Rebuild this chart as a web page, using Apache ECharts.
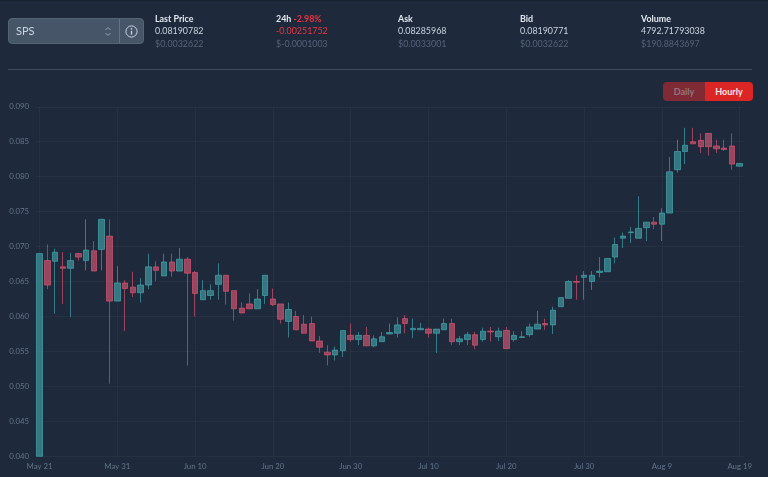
<!DOCTYPE html>
<html><head><meta charset="utf-8">
<script src="https://cdn.jsdelivr.net/npm/echarts@6/dist/echarts.min.js"></script>
<style>
html,body{margin:0;padding:0;background:#1e293b;width:768px;height:477px;overflow:hidden;font-family:"Lato","Open Sans",sans-serif}
#chart{position:absolute;left:0;top:0;width:768px;height:477px}
.abs{position:absolute}
.stat{position:absolute;top:13px;font-size:8.9px;line-height:12.4px;color:#cbd5e1;white-space:nowrap}
.stat b{display:block;font-weight:700;color:#e2e8f0}
.stat i{display:block;font-style:normal;color:#55627a}
.red{color:#ef3340 !important}
</style></head><body>
<div id="chart"></div>
<div class="abs" style="left:0;top:0;width:768px;height:1px;background:#18222f"></div>
<div class="abs" style="left:8px;top:18px;width:136px;height:26px;box-sizing:border-box;background:#475569;border:1px solid #566377;border-radius:4px"></div>
<div class="abs" style="left:119px;top:19px;width:1px;height:24px;background:#64728a"></div>
<div class="abs" style="left:16px;top:24px;font-size:11px;line-height:14px;color:#cbd5e1">SPS</div>
<svg class="abs" style="left:104px;top:26px" width="8" height="11" viewBox="0 0 8 11"><path d="M1.5 4 L4 1.5 L6.5 4 M1.5 7 L4 9.5 L6.5 7" fill="none" stroke="#94a3b8" stroke-width="1"/></svg>
<svg class="abs" style="left:125px;top:25px" width="13" height="13" viewBox="0 0 13 13"><circle cx="6.5" cy="6.5" r="5.6" fill="none" stroke="#cbd5e1" stroke-width="1"/><path d="M6.5 5.8V9.6" stroke="#cbd5e1" stroke-width="1.3"/><circle cx="6.5" cy="3.9" r=".8" fill="#cbd5e1"/></svg>
<div class="stat" style="left:155px"><b>Last Price</b>0.08190782<i>$0.0032622</i></div>
<div class="stat" style="left:276px"><b>24h <span class="red">-2.98%</span></b><span class="red">-0.00251752</span><i>$-0.0001003</i></div>
<div class="stat" style="left:398px"><b>Ask</b>0.08285968<i>$0.0033001</i></div>
<div class="stat" style="left:520px"><b>Bid</b>0.08190771<i>$0.0032622</i></div>
<div class="stat" style="left:641px"><b>Volume</b>4792.71793038<i>$190.8843697</i></div>
<div class="abs" style="left:8px;top:69px;width:744px;height:1px;background:#3f4c60"></div>
<div class="abs" style="left:663px;top:82px;width:42px;height:19px;background:#7f2a35;border-radius:4px 0 0 4px;color:#94757f;font-size:9px;font-weight:700;line-height:19px;text-align:center">Daily</div>
<div class="abs" style="left:705px;top:82px;width:48px;height:19px;background:#dc2626;border-radius:0 4px 4px 0;color:#f8e5e5;font-size:9px;font-weight:700;line-height:19px;text-align:center">Hourly</div>
<script>
const startDate = [2021, 4, 21];
const categories = [];
for (let i = 0; i < 91; i++) {
  const d = new Date(Date.UTC(startDate[0], startDate[1], startDate[2] + i));
  categories.push(d.toLocaleDateString('en-US', {month: 'short', day: 'numeric', timeZone: 'UTC'}));
}
const opens = [.0400,.0680,.0679,.0671,.0669,.0690,.0680,.0694,.0696,.0715,.0622,.0648,.0642,.0634,.0645,.0671,.0658,.0678,.0665,.0682,.0663,.0624,.0630,.0646,.0659,.0637,.0612,.0618,.0611,.0630,.0625,.0618,.0593,.0600,.0589,.0590,.0565,.0549,.0545,.0551,.0573,.0567,.0573,.0558,.0564,.0575,.0576,.0597,.0581,.0581,.0582,.0576,.0581,.0590,.0564,.0567,.0574,.0567,.0579,.0571,.0580,.0567,.0570,.0574,.0582,.0590,.0588,.0614,.0626,.0650,.0656,.0650,.0663,.0664,.0685,.0712,.0720,.0712,.0727,.0735,.0732,.0748,.0810,.0836,.0850,.0852,.0862,.0844,.0841,.0844,.0815];
const closes = [.0690,.0645,.0692,.0669,.0680,.0685,.0695,.0665,.0739,.0622,.0648,.0640,.0634,.0645,.0671,.0666,.0678,.0665,.0682,.0662,.0633,.0637,.0637,.0659,.0636,.0611,.0605,.0611,.0625,.0659,.0617,.0596,.0610,.0581,.0576,.0565,.0556,.0545,.0552,.0580,.0567,.0573,.0558,.0568,.0571,.0577,.0588,.0590,.0583,.0583,.0576,.0582,.0590,.0564,.0568,.0574,.0559,.0579,.0578,.0579,.0554,.0573,.0571,.0585,.0589,.0588,.0609,.0627,.0650,.0649,.0659,.0659,.0665,.0683,.0703,.0715,.0721,.0726,.0735,.0732,.0748,.0807,.0836,.0845,.0847,.0843,.0843,.0840,.0839,.0818,.0819];
const lows = [.0400,.0639,.0604,.0618,.0599,.0680,.0666,.0665,.0666,.0504,.0622,.0579,.0628,.0620,.0639,.0651,.0658,.0657,.0665,.0530,.0600,.0624,.0624,.0624,.0617,.0594,.0605,.0611,.0611,.0618,.0615,.0590,.0570,.0581,.0576,.0565,.0548,.0530,.0537,.0542,.0564,.0559,.0558,.0556,.0564,.0575,.0570,.0576,.0569,.0581,.0570,.0548,.0581,.0559,.0559,.0559,.0553,.0564,.0564,.0565,.0554,.0564,.0570,.0571,.0582,.0581,.0575,.0614,.0626,.0624,.0624,.0638,.0656,.0664,.0676,.0698,.0705,.0712,.0708,.0725,.0708,.0748,.0806,.0818,.0847,.0834,.0830,.0834,.0837,.0810,.0815];
const highs = [.0690,.0703,.0697,.0692,.0691,.0691,.0739,.0708,.0739,.0739,.0672,.0652,.0664,.0655,.0690,.0679,.0690,.0690,.0698,.0685,.0665,.0652,.0646,.0676,.0659,.0637,.0620,.0633,.0639,.0659,.0640,.0618,.0620,.0608,.0602,.0600,.0572,.0559,.0557,.0580,.0590,.0578,.0585,.0573,.0578,.0590,.0599,.0602,.0597,.0591,.0584,.0582,.0597,.0597,.0572,.0578,.0578,.0584,.0585,.0584,.0585,.0579,.0579,.0590,.0608,.0597,.0614,.0627,.0652,.0659,.0665,.0665,.0685,.0683,.0713,.0720,.0728,.0772,.0735,.0742,.0755,.0828,.0853,.0870,.0870,.0862,.0862,.0853,.0853,.0862,.0819];
const yTickStep = 0.005;
const candles = opens.map((o, i) => [o, closes[i], lows[i], highs[i]]);
const chart = echarts.init(document.getElementById('chart'), null, {renderer: 'canvas'});
chart.setOption({
  animation: false,
  backgroundColor: 'transparent',
  grid: {left: 35.6, top: 106.8, width: 708, height: 349.5, containLabel: false},
  xAxis: {
    type: 'category', data: categories, boundaryGap: true,
    axisLine: {show: false},
    axisTick: {show: false, alignWithLabel: true},
    axisLabel: {color: '#64748b', fontSize: 7.8, fontFamily: 'Lato', interval: 9, margin: 6, hideOverlap: false},
    splitLine: {show: true, alignWithLabel: true, interval: 9, lineStyle: {color: 'rgba(255,255,255,0.035)', width: 1}}
  },
  yAxis: {
    type: 'value', min: 0.04, max: 0.09, interval: yTickStep, scale: true,
    axisLine: {show: false}, axisTick: {show: false},
    axisLabel: {color: '#64748b', fontSize: 7.8, fontFamily: 'Lato', margin: 6.5, formatter: v => v.toFixed(3)},
    splitLine: {show: true, lineStyle: {color: 'rgba(255,255,255,0.035)', width: 1}}
  },
  series: [{
    type: 'candlestick', data: candles, barWidth: 6, clip: false,
    itemStyle: {
      color: 'rgba(70,170,175,0.6)', borderColor: 'rgba(70,180,185,0.6)',
      color0: 'rgba(225,90,120,0.62)', borderColor0: 'rgba(230,85,115,0.62)',
      borderWidth: 1
    }
  }]
});
</script>
</body></html>
